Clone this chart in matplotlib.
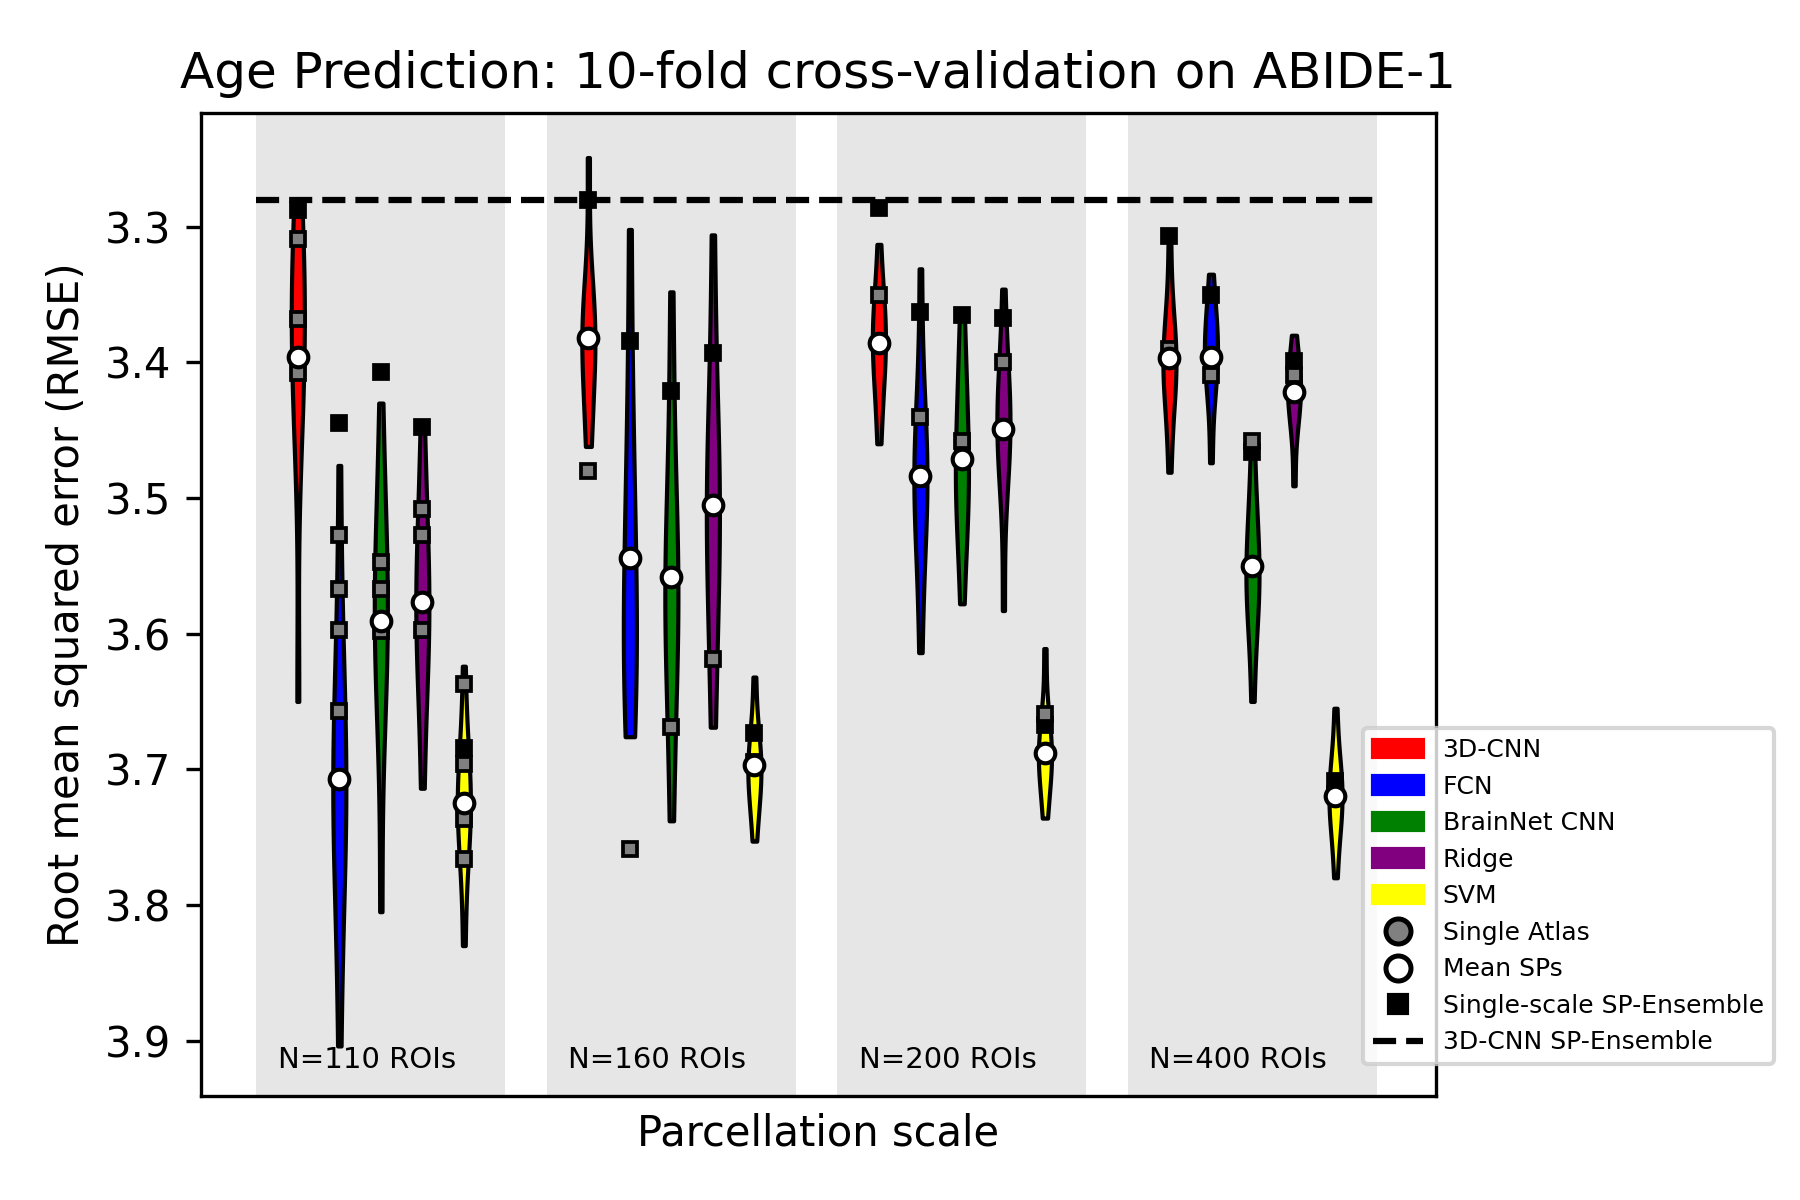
import numpy as np
from matplotlib import pyplot as plt
import matplotlib.patches as mpatches
from matplotlib.lines import Line2D


groupLabels = ["N=110 ROIs", "N=160 ROIs", "N=200 ROIs", "N=400 ROIs"]
methodNames = ["3D-CNN", "FCN", "BrainNet CNN", "Ridge", "SVM"]
methodColors = ["red", "blue", "green", "purple", "yellow"]

# RMSE of the subject-specific parcellations, one list per parcellation scale
cnn3dRuns = [
    [3.292, 3.31, 3.33, 3.35, 3.36, 3.39, 3.41, 3.42, 3.45, 3.650],
    [3.249, 3.35, 3.36, 3.37, 3.38, 3.39, 3.40, 3.41, 3.45, 3.462],
    [3.313, 3.35, 3.36, 3.37, 3.38, 3.39, 3.40, 3.41, 3.43, 3.460],
    [3.307, 3.36, 3.38, 3.39, 3.40, 3.40, 3.41, 3.42, 3.44, 3.481],
]
fcnRuns = [
    [3.476, 3.60, 3.65, 3.68, 3.70, 3.72, 3.74, 3.76, 3.80, 3.904],
    [3.302, 3.42, 3.48, 3.52, 3.56, 3.59, 3.61, 3.63, 3.65, 3.676],
    [3.331, 3.42, 3.45, 3.47, 3.48, 3.49, 3.50, 3.52, 3.55, 3.614],
    [3.335, 3.36, 3.37, 3.38, 3.39, 3.40, 3.40, 3.41, 3.43, 3.474],
]
brainnetRuns = [
    [3.430, 3.50, 3.54, 3.56, 3.57, 3.59, 3.61, 3.64, 3.66, 3.805],
    [3.348, 3.44, 3.51, 3.54, 3.56, 3.58, 3.60, 3.60, 3.67, 3.738],
    [3.365, 3.40, 3.43, 3.45, 3.47, 3.48, 3.50, 3.51, 3.53, 3.578],
    [3.458, 3.50, 3.52, 3.54, 3.55, 3.56, 3.57, 3.58, 3.60, 3.650],
]
ridgeRuns = [
    [3.446, 3.50, 3.53, 3.55, 3.57, 3.59, 3.60, 3.62, 3.65, 3.714],
    [3.306, 3.40, 3.45, 3.48, 3.50, 3.52, 3.54, 3.56, 3.62, 3.669],
    [3.346, 3.40, 3.42, 3.43, 3.44, 3.45, 3.46, 3.47, 3.49, 3.583],
    [3.380, 3.40, 3.41, 3.41, 3.42, 3.42, 3.43, 3.44, 3.45, 3.491],
]
svmRuns = [
    [3.624, 3.68, 3.70, 3.71, 3.72, 3.73, 3.74, 3.75, 3.77, 3.830],
    [3.632, 3.67, 3.68, 3.69, 3.70, 3.70, 3.71, 3.72, 3.73, 3.753],
    [3.611, 3.66, 3.67, 3.68, 3.69, 3.69, 3.70, 3.70, 3.72, 3.736],
    [3.655, 3.69, 3.70, 3.71, 3.72, 3.72, 3.73, 3.74, 3.75, 3.780],
]

# mean of the SPs (white circles)
cnn3dMean = [3.396, 3.382, 3.386, 3.397]
fcnMean = [3.707, 3.544, 3.484, 3.396]
brainnetMean = [3.591, 3.558, 3.471, 3.550]
ridgeMean = [3.577, 3.505, 3.449, 3.422]
svmMean = [3.725, 3.697, 3.688, 3.720]

# single-scale SP-Ensemble (black squares)
cnn3dEnsemble = [3.288, 3.280, 3.286, 3.307]
fcnEnsemble = [3.445, 3.384, 3.363, 3.350]
brainnetEnsemble = [3.407, 3.421, 3.365, 3.466]
ridgeEnsemble = [3.448, 3.393, 3.367, 3.399]
svmEnsemble = [3.684, 3.673, 3.667, 3.709]

# single atlas results (grey squares)
cnn3dAtlas = [[3.309, 3.368, 3.408], [3.480], [3.350], [3.390]]
fcnAtlas = [[3.527, 3.567, 3.597, 3.657], [3.759], [3.440], [3.409]]
brainnetAtlas = [[3.547, 3.567, 3.598], [3.669], [3.458], [3.458]]
ridgeAtlas = [[3.508, 3.527, 3.597], [3.619], [3.400], [3.409]]
svmAtlas = [[3.637, 3.696, 3.737, 3.766], [3.695], [3.659], [3.718]]

multiScaleEnsemble = 3.28

allRuns = [cnn3dRuns, fcnRuns, brainnetRuns, ridgeRuns, svmRuns]
allMean = [cnn3dMean, fcnMean, brainnetMean, ridgeMean, svmMean]
allEnsemble = [cnn3dEnsemble, fcnEnsemble, brainnetEnsemble, ridgeEnsemble, svmEnsemble]
allAtlas = [cnn3dAtlas, fcnAtlas, brainnetAtlas, ridgeAtlas, svmAtlas]

nGroups = len(groupLabels)
nMethods = len(methodNames)
step = 1.0 / 7

fig = plt.figure(figsize=(6, 4), dpi=300)
ax = fig.add_axes([0.1115, 0.087, 0.686, 0.819])

for g in range(nGroups):
    ax.axvspan(g - 3 * step, g + 3 * step, color="0.9", lw=0, zorder=0)
    ax.text(g - 0.355, 3.92, groupLabels[g], fontsize=7)

for k in range(nMethods):
    pos = [g + (k - 2) * step for g in range(nGroups)]
    parts = ax.violinplot(allRuns[k], positions=pos, widths=0.045,
                          showextrema=False)
    for body in parts["bodies"]:
        body.set_facecolor(methodColors[k])
        body.set_edgecolor("black")
        body.set_linewidth(1.0)
        body.set_alpha(1)
        body.set_zorder(2)

    ax.plot(pos, allEnsemble[k], "s", color="black", ms=3.4, mew=0.9, zorder=3)
    for g in range(nGroups):
        atl = allAtlas[k][g]
        ax.plot([pos[g]] * len(atl), atl, "s", mfc="grey", mec="black",
                ms=3.4, mew=0.9, zorder=4)
    ax.plot(pos, allMean[k], "o", mfc="white", mec="black", ms=4.7, mew=1.0,
            zorder=5)

ax.hlines(multiScaleEnsemble, -3 * step, nGroups - 1 + 3 * step,
          colors="black", linestyles="--", lw=1.5, zorder=3)

ax.set_xlim(-0.62, 3.63)
ax.set_ylim(3.9406, 3.216)
ax.set_xticks([])
ax.set_yticks([3.3, 3.4, 3.5, 3.6, 3.7, 3.8, 3.9])
ax.set_xlabel("Parcellation scale")
ax.set_ylabel("Root mean squared error (RMSE)")
ax.set_title("Age Prediction: 10-fold cross-validation on ABIDE-1", fontsize=12)

handles = [mpatches.Patch(color=c, label=n) for c, n in zip(methodColors, methodNames)]
handles.append(Line2D([], [], ls="", marker="o", mfc="grey", mec="black",
                      ms=6, mew=1.2, label="Single Atlas"))
handles.append(Line2D([], [], ls="", marker="o", mfc="white", mec="black",
                      ms=6, mew=1.2, label="Mean SPs"))
handles.append(Line2D([], [], ls="", marker="s", color="black", ms=4.5,
                      label="Single-scale SP-Ensemble"))
handles.append(Line2D([], [], ls="--", color="black", lw=1.5,
                      label="3D-CNN SP-Ensemble"))
ax.legend(handles=handles, loc="upper left", bbox_to_anchor=(0.757, 0.393),
          bbox_transform=fig.transFigure, borderaxespad=0, fontsize=6)

plt.savefig("out.png", dpi=300)
